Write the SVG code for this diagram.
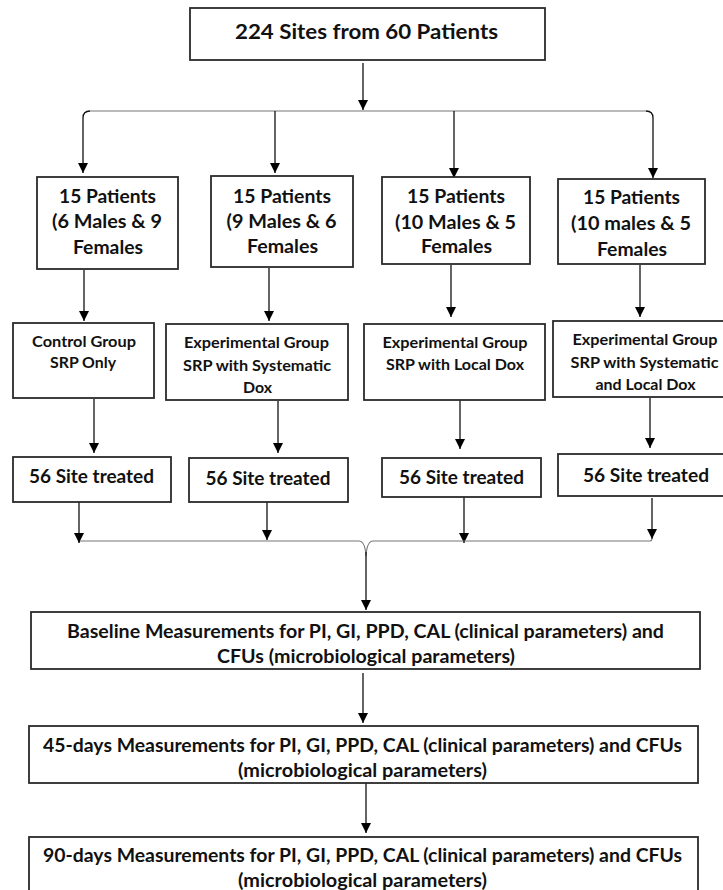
<svg xmlns="http://www.w3.org/2000/svg" width="723" height="890" viewBox="0 0 723 890">
<defs>
<marker id="ah" viewBox="0 0 10 10" refX="10" refY="5" markerUnits="userSpaceOnUse" markerWidth="10" markerHeight="11" orient="auto">
<path d="M0,0 L10,5 L0,10 z" fill="#000"/>
</marker>
</defs>
<style>
rect{fill:#fff;stroke:#2a2a2a;stroke-width:1.8}
text{font-family:Lato,"Open Sans","Liberation Sans",sans-serif;font-weight:700;fill:#111;text-anchor:middle}
.t0{font-size:21px}
.t1{font-size:19px}
.t2{font-size:16px}
.t3{font-size:19.5px}
.t4{font-size:18px}
.ar{fill:none;stroke:#111;stroke-width:1.3;marker-end:url(#ah)}
.bus{fill:none;stroke:#777;stroke-width:1.1}
</style>
<rect x="0" y="0" width="723" height="890" style="fill:#fff;stroke:none"/>
<g id="connectors">
<path class="ar" d="M363,63 V110"/>
<path class="bus" d="M90,111 H646"/>
<path class="ar" d="M90,111 Q83,111 83,118 V173"/>
<path class="ar" d="M275,111 V173"/>
<path class="ar" d="M454,111 V178"/>
<path class="ar" d="M646,111 Q653,111 653,118 V178"/>
<path class="ar" d="M84,270 V321"/>
<path class="ar" d="M269,268 V321"/>
<path class="ar" d="M451,265 V317"/>
<path class="ar" d="M640,265 V317"/>
<path class="ar" d="M94,399 V453"/>
<path class="ar" d="M278,401 V453"/>
<path class="ar" d="M460,397 V449"/>
<path class="ar" d="M650,398 V448"/>
<path class="ar" d="M79,497 V543"/>
<path class="ar" d="M267,500 V540"/>
<path class="ar" d="M464,497 V543"/>
<path class="ar" d="M652,498 V539"/>
<path class="bus" d="M80,541 H359 Q365,541 366,556 Q367,541 373,541 H650 Q652,541 652,538"/>
<path class="ar" d="M366,552 V610"/>
<path class="ar" d="M363,673 V723"/>
<path class="ar" d="M366,783 V833"/>
</g>
<g id="n_top">
<rect x="190" y="8" width="355" height="52"/>
<text class="t0" x="366.5" y="38.5" textLength="263" lengthAdjust="spacingAndGlyphs">224 Sites from 60 Patients</text>
</g>
<g id="n_p1">
<rect x="37" y="177" width="141" height="92"/>
<text class="t1" x="107.5" y="203.3" textLength="97" lengthAdjust="spacingAndGlyphs">15 Patients</text>
<text class="t1" x="107" y="228.3" textLength="110" lengthAdjust="spacingAndGlyphs">(6 Males &amp; 9</text>
<text class="t1" x="108" y="254" textLength="70" lengthAdjust="spacingAndGlyphs">Females</text>
</g>
<g id="n_p2">
<rect x="211" y="176" width="142" height="91"/>
<text class="t1" x="282" y="202.7" textLength="98" lengthAdjust="spacingAndGlyphs">15 Patients</text>
<text class="t1" x="281.5" y="228.3" textLength="110" lengthAdjust="spacingAndGlyphs">(9 Males &amp; 6</text>
<text class="t1" x="282.5" y="253.3" textLength="71" lengthAdjust="spacingAndGlyphs">Females</text>
</g>
<g id="n_p3">
<rect x="382" y="177" width="148" height="87"/>
<text class="t1" x="456" y="202.7" textLength="98" lengthAdjust="spacingAndGlyphs">15 Patients</text>
<text class="t1" x="455.5" y="229" textLength="121" lengthAdjust="spacingAndGlyphs">(10 Males &amp; 5</text>
<text class="t1" x="456.5" y="253.3" textLength="71" lengthAdjust="spacingAndGlyphs">Females</text>
</g>
<g id="n_p4">
<rect x="558" y="179" width="147" height="85"/>
<text class="t1" x="631.5" y="204.3" textLength="97" lengthAdjust="spacingAndGlyphs">15 Patients</text>
<text class="t1" x="631" y="230" textLength="120" lengthAdjust="spacingAndGlyphs">(10 males &amp; 5</text>
<text class="t1" x="632" y="255.7" textLength="70" lengthAdjust="spacingAndGlyphs">Females</text>
</g>
<g id="n_g1">
<rect x="13" y="323" width="141" height="75"/>
<text class="t2" x="84" y="346.5" textLength="104" lengthAdjust="spacingAndGlyphs">Control Group</text>
<text class="t2" x="83" y="368" textLength="66" lengthAdjust="spacingAndGlyphs">SRP Only</text>
</g>
<g id="n_g2">
<rect x="166" y="324" width="182" height="76"/>
<text class="t2" x="256.5" y="348.3" textLength="145" lengthAdjust="spacingAndGlyphs">Experimental Group</text>
<text class="t2" x="257" y="371" textLength="148" lengthAdjust="spacingAndGlyphs">SRP with Systematic</text>
<text class="t2" x="257.5" y="393.3" textLength="29" lengthAdjust="spacingAndGlyphs">Dox</text>
</g>
<g id="n_g3">
<rect x="364" y="324" width="181" height="76"/>
<text class="t2" x="455" y="348.3" textLength="145" lengthAdjust="spacingAndGlyphs">Experimental Group</text>
<text class="t2" x="455" y="370" textLength="138" lengthAdjust="spacingAndGlyphs">SRP with Local Dox</text>
</g>
<g id="n_g4">
<rect x="553" y="321" width="190" height="76"/>
<text class="t2" x="645" y="345" textLength="145" lengthAdjust="spacingAndGlyphs">Experimental Group</text>
<text class="t2" x="644.5" y="368.3" textLength="148" lengthAdjust="spacingAndGlyphs">SRP with Systematic</text>
<text class="t2" x="645.5" y="390" textLength="100" lengthAdjust="spacingAndGlyphs">and Local Dox</text>
</g>
<g id="n_s1">
<rect x="13" y="457" width="158" height="45"/>
<text class="t3" x="91.5" y="483" textLength="125" lengthAdjust="spacingAndGlyphs">56 Site treated</text>
</g>
<g id="n_s2">
<rect x="189" y="458" width="159" height="44"/>
<text class="t3" x="268" y="485" textLength="125" lengthAdjust="spacingAndGlyphs">56 Site treated</text>
</g>
<g id="n_s3">
<rect x="382" y="458" width="159" height="39"/>
<text class="t3" x="461.5" y="484.3" textLength="125" lengthAdjust="spacingAndGlyphs">56 Site treated</text>
</g>
<g id="n_s4">
<rect x="558" y="454" width="185" height="42"/>
<text class="t3" x="646" y="481.5" textLength="126" lengthAdjust="spacingAndGlyphs">56 Site treated</text>
</g>
<g id="n_base">
<rect x="31" y="612" width="669" height="57"/>
<text class="t4" x="365.5" y="637.5" textLength="597" lengthAdjust="spacingAndGlyphs">Baseline Measurements for PI, GI, PPD, CAL (clinical parameters) and</text>
<text class="t4" x="366" y="663" textLength="298" lengthAdjust="spacingAndGlyphs">CFUs (microbiological parameters)</text>
</g>
<g id="n_45">
<rect x="29" y="726" width="669" height="57"/>
<text class="t4" x="362.5" y="752" textLength="639" lengthAdjust="spacingAndGlyphs">45-days Measurements for PI, GI, PPD, CAL (clinical parameters) and CFUs</text>
<text class="t4" x="362.5" y="777" textLength="249" lengthAdjust="spacingAndGlyphs">(microbiological parameters)</text>
</g>
<g id="n_90">
<rect x="29" y="837" width="669" height="60"/>
<text class="t4" x="362.5" y="862" textLength="639" lengthAdjust="spacingAndGlyphs">90-days Measurements for PI, GI, PPD, CAL (clinical parameters) and CFUs</text>
<text class="t4" x="362.5" y="886.7" textLength="249" lengthAdjust="spacingAndGlyphs">(microbiological parameters)</text>
</g>
</svg>
